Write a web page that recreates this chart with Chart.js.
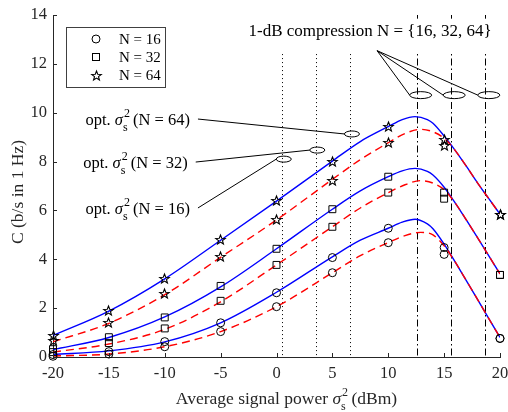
<!DOCTYPE html>
<html>
<head>
<meta charset="utf-8">
<script src="https://cdn.jsdelivr.net/npm/chart.js@4.4.1/dist/chart.umd.min.js"></script>
<style>
  html, body { margin: 0; padding: 0; background: #fff; }
  #box { width: 508px; height: 412px; }
</style>
</head>
<body>
<div id="box"><canvas id="chart" width="508" height="412"></canvas></div>
<script>
// simulated points (two per power: with / without the upper curve)
const simPower = [-20, -15, -10, -5, 0, 5, 10, 15, 20];
const sim16Upper = [0.10, 0.22, 0.63, 1.40, 2.63, 4.07, 5.27, 4.48, 0.76];
const sim16Lower = [0.03, 0.12, 0.42, 1.04, 2.06, 3.45, 4.68, 4.20, 0.76];
const sim32Upper = [0.32, 0.81, 1.62, 2.91, 4.43, 6.05, 7.38, 6.73, 3.36];
const sim32Lower = [0.20, 0.57, 1.17, 2.30, 3.77, 5.33, 6.73, 6.48, 3.36];
const sim64Upper = [0.88, 1.89, 3.22, 4.79, 6.39, 8.02, 9.43, 8.91, 5.84];
const sim64Lower = [0.66, 1.40, 2.58, 4.11, 5.61, 7.24, 8.77, 8.64, 5.84];

// analytic curves, blue solid
const bluePower = [-20, -15, -10, -5, 0, 5, 7.5, 10, 11.25, 12.4, 13.5, 14, 15, 16, 17, 18, 19, 20];
const blue16 = [0.10, 0.25, 0.62, 1.40, 2.65, 4.10, 4.78, 5.27, 5.52, 5.64, 5.45, 5.25, 4.62, 3.88, 3.12, 2.35, 1.57, 0.80];
const blue32 = [0.30, 0.80, 1.64, 2.87, 4.43, 6.05, 6.80, 7.38, 7.62, 7.72, 7.60, 7.45, 6.95, 6.30, 5.60, 4.88, 4.14, 3.40];
const blue64 = [0.88, 1.88, 3.20, 4.78, 6.38, 8.02, 8.82, 9.43, 9.72, 9.84, 9.72, 9.57, 9.05, 8.45, 7.80, 7.12, 6.48, 5.85];
// analytic curves, red dashed
const redPower = [-20, -15, -10, -5, 0, 5, 7.5, 10, 11.5, 12.9, 14, 15, 16, 17, 18, 19, 20];
const red16 = [0.04, 0.12, 0.42, 1.04, 2.06, 3.45, 4.15, 4.68, 4.97, 5.10, 5.00, 4.55, 3.88, 3.12, 2.35, 1.57, 0.80];
const red32 = [0.20, 0.53, 1.13, 2.26, 3.77, 5.33, 6.10, 6.73, 7.05, 7.22, 7.12, 6.85, 6.30, 5.60, 4.88, 4.14, 3.40];
const red64 = [0.62, 1.38, 2.55, 4.08, 5.61, 7.27, 8.08, 8.77, 9.15, 9.32, 9.22, 8.95, 8.45, 7.80, 7.12, 6.48, 5.85];

// annotations
const optPower = [0.5, 3.5, 6.6];      // dotted lines, N = 16, 32, 64
const optLevel = [8.1, 8.47, 9.13];    // where the opt. ellipses sit
const compPower = [12.6, 15.6, 18.7];  // dash-dot lines, 1-dB compression
const compLevel = 10.72;
const legendLabels = ['N = 16', 'N = 32', 'N = 64'];
const optLabels = ['(N = 16)', '(N = 32)', '(N = 64)'];

const FONT = '"Liberation Serif", "Times New Roman", serif';
const INK = '#262626';

function starImage(r) {
  const s = Math.ceil(r * 2 + 3);
  const c = document.createElement('canvas');
  c.width = s; c.height = s;
  const g = c.getContext('2d');
  g.translate(s / 2, s / 2 + 0.5);
  g.beginPath();
  for (let i = 0; i < 10; i++) {
    const rr = i % 2 ? r * 0.42 : r;
    const a = -Math.PI / 2 + i * Math.PI / 5;
    g.lineTo(rr * Math.cos(a), rr * Math.sin(a));
  }
  g.closePath();
  g.strokeStyle = '#000';
  g.lineWidth = 1.1;
  g.stroke();
  return c;
}
const star = starImage(5);

const pts = (xs, ys) => xs.map((x, i) => ({ x, y: ys[i] }));
const curve = (xs, ys, color, dash) => ({
  data: pts(xs, ys), borderColor: color, borderWidth: 1.4, borderDash: dash,
  pointRadius: 0, cubicInterpolationMode: 'monotone', fill: false
});
const marks = (ys, style, r) => ({
  data: pts(simPower, ys), showLine: false, pointStyle: style, pointRadius: r,
  borderColor: '#000', borderWidth: 1, backgroundColor: 'rgba(0,0,0,0)', clip: false
});

function rich(ctx, parts, x, y, align) {
  let total = 0, stackW = 0;
  const offs = [];
  for (const p of parts) {
    ctx.font = (p.it ? 'italic ' : '') + p.sz + 'px ' + FONT;
    const w = ctx.measureText(p.t).width;
    offs.push(total);
    if (p.over) { stackW = w; } else { total += Math.max(w, stackW); stackW = 0; }
  }
  const x0 = align === 'center' ? x - total / 2 : x;
  parts.forEach((p, i) => {
    ctx.font = (p.it ? 'italic ' : '') + p.sz + 'px ' + FONT;
    ctx.fillText(p.t, x0 + offs[i] + (p.dx || 0), y + (p.dy || 0));
  });
  return x0 + total;
}

const decor = {
  id: 'decor',
  beforeDatasetsDraw(chart) {
    const { ctx, chartArea: a, scales: { x, y } } = chart;
    ctx.save();
    ctx.strokeStyle = '#000';
    ctx.lineWidth = 1;
    ctx.setLineDash([1, 3]);
    optPower.forEach(p => {
      const px = Math.round(x.getPixelForValue(p)) + 0.5;
      ctx.beginPath(); ctx.moveTo(px, y.getPixelForValue(12.4)); ctx.lineTo(px, a.bottom); ctx.stroke();
    });
    ctx.setLineDash([7, 3, 1.5, 3]);
    compPower.forEach(p => {
      const px = Math.round(x.getPixelForValue(p)) + 0.5;
      ctx.beginPath(); ctx.moveTo(px, a.top); ctx.lineTo(px, a.bottom); ctx.stroke();
    });
    ctx.restore();
    // keep canvas point styles (stars) crisp
    ctx.imageSmoothingEnabled = false;
  },
  afterDatasetsDraw(chart) {
    const { ctx, chartArea: a, scales: { x, y } } = chart;
    ctx.imageSmoothingEnabled = true;
    ctx.save();
    ctx.fillStyle = '#000';
    ctx.strokeStyle = '#000';
    ctx.lineWidth = 1;

    // 1-dB compression label with white box
    ctx.fillStyle = '#fff';
    ctx.fillRect(x.getPixelForValue(-2.9), y.getPixelForValue(13.85), x.getPixelForValue(19.2) - x.getPixelForValue(-2.9), y.getPixelForValue(12.45) - y.getPixelForValue(13.85));
    ctx.fillStyle = '#000';
    ctx.textBaseline = 'alphabetic';
    ctx.font = '17px ' + FONT;
    ctx.fillText('1-dB compression N = {16, 32, 64}', x.getPixelForValue(-2.5), y.getPixelForValue(13.34) + 5);

    const ox = x.getPixelForValue(9.0), oy = y.getPixelForValue(12.54);
    compPower.forEach(p => {
      const cx = x.getPixelForValue(p + 0.3), cy = y.getPixelForValue(compLevel);
      ctx.beginPath(); ctx.ellipse(cx, cy, 11, 3.5, 0, 0, Math.PI * 2); ctx.stroke();
      ctx.beginPath(); ctx.moveTo(ox, oy); ctx.lineTo(cx - 11, cy); ctx.stroke();
    });

    // opt. sigma labels
    const textLevel = [6.06, 7.94, 9.70];
    const textLeft = [-17.1, -17.3, -17.1];
    optPower.forEach((p, i) => {
      const cx = x.getPixelForValue(p + 0.15), cy = y.getPixelForValue(optLevel[i]);
      ctx.beginPath(); ctx.ellipse(cx, cy, 7.5, 3, 0, 0, Math.PI * 2); ctx.stroke();
      const by = y.getPixelForValue(textLevel[i]) + 5;
      const end = rich(ctx, [
        { t: 'opt. ', sz: 16.5 },
        { t: 'σ', sz: 16.5, it: true },
        { t: '2', sz: 12, dy: -8, dx: 1, over: true },
        { t: 's', sz: 12, dy: 6 },
        { t: ' ' + optLabels[i], sz: 16.5 }
      ], x.getPixelForValue(textLeft[i]), by, 'left');
      ctx.beginPath(); ctx.moveTo(end + 8, by - 6); ctx.lineTo(cx - 7.5, cy); ctx.stroke();
    });

    // legend
    const lx = a.left + 13, ly = a.top + 12;
    ctx.fillStyle = '#fff';
    ctx.fillRect(lx, ly, 99, 60);
    ctx.strokeStyle = '#404040';
    ctx.strokeRect(lx + 0.5, ly + 0.5, 99, 60);
    ctx.strokeStyle = '#000';
    ctx.fillStyle = '#000';
    ctx.font = '15px ' + FONT;
    ctx.textBaseline = 'middle';
    legendLabels.forEach((t, i) => {
      const my = ly + 12 + i * 18, mx = lx + 30;
      if (i === 0) { ctx.beginPath(); ctx.arc(mx, my, 4, 0, Math.PI * 2); ctx.stroke(); }
      if (i === 1) { ctx.strokeRect(mx - 3.5, my - 3.5, 7, 7); }
      if (i === 2) { ctx.drawImage(star, Math.round(mx - star.width / 2), Math.round(my - star.height / 2)); }
      ctx.fillText(t, lx + 53, my + 1);
    });

    // inward ticks
    ctx.strokeStyle = INK;
    x.ticks.forEach(t => {
      const px = Math.round(x.getPixelForValue(t.value)) + 0.5;
      ctx.beginPath(); ctx.moveTo(px, a.bottom); ctx.lineTo(px, a.bottom - 4); ctx.stroke();
    });
    y.ticks.forEach(t => {
      const py = Math.round(y.getPixelForValue(t.value)) + 0.5;
      ctx.beginPath(); ctx.moveTo(a.left, py); ctx.lineTo(a.left + 4, py); ctx.stroke();
    });

    // axis titles
    ctx.fillStyle = INK;
    ctx.textBaseline = 'alphabetic';
    rich(ctx, [
      { t: 'Average signal power ', sz: 17.5 },
      { t: 'σ', sz: 17.5, it: true },
      { t: '2', sz: 12, dy: -8, dx: 1, over: true },
      { t: 's', sz: 12, dy: 6 },
      { t: ' (dBm)', sz: 17.5 }
    ], (a.left + a.right) / 2 + 10, 404, 'center');
    ctx.translate(18, (a.top + a.bottom) / 2 + 6);
    ctx.rotate(-Math.PI / 2);
    ctx.textAlign = 'center';
    ctx.textBaseline = 'middle';
    ctx.font = '17.5px ' + FONT;
    ctx.fillText('C (b/s in 1 Hz)', 0, 0);
    ctx.restore();
  }
};

new Chart(document.getElementById('chart'), {
  type: 'line',
  data: {
    datasets: [
      marks(sim16Upper, 'circle', 4), marks(sim16Lower, 'circle', 4),
      marks(sim32Upper, 'rect', 4.9), marks(sim32Lower, 'rect', 4.9),
      marks(sim64Upper, star, 5), marks(sim64Lower, star, 5),
      curve(redPower, red16, '#ff0000', [8, 5]),
      curve(redPower, red32, '#ff0000', [8, 5]),
      curve(redPower, red64, '#ff0000', [8, 5]),
      curve(bluePower, blue16, '#0000ff', []),
      curve(bluePower, blue32, '#0000ff', []),
      curve(bluePower, blue64, '#0000ff', [])
    ]
  },
  options: {
    responsive: false,
    animation: false,
    layout: { padding: { top: 15, right: 0, left: 0, bottom: 0 } },
    plugins: { legend: { display: false }, tooltip: { enabled: false } },
    scales: {
      x: {
        type: 'linear', min: -20, max: 20,
        ticks: { stepSize: 5, color: INK, padding: 7, font: { family: FONT, size: 16.5 } },
        grid: { display: false, drawTicks: false },
        border: { display: true, color: INK, width: 1 },
        afterFit: s => { s.height = 55; s.paddingLeft = 0; s.paddingRight = 8; }
      },
      y: {
        min: 0, max: 14,
        ticks: { stepSize: 2, color: INK, padding: 6, font: { family: FONT, size: 16.5 } },
        grid: { display: false, drawTicks: false },
        border: { display: true, color: INK, width: 1 },
        afterFit: s => { s.width = 53; s.paddingTop = 0; s.paddingBottom = 0; }
      }
    }
  },
  plugins: [decor]
});
</script>
</body>
</html>
